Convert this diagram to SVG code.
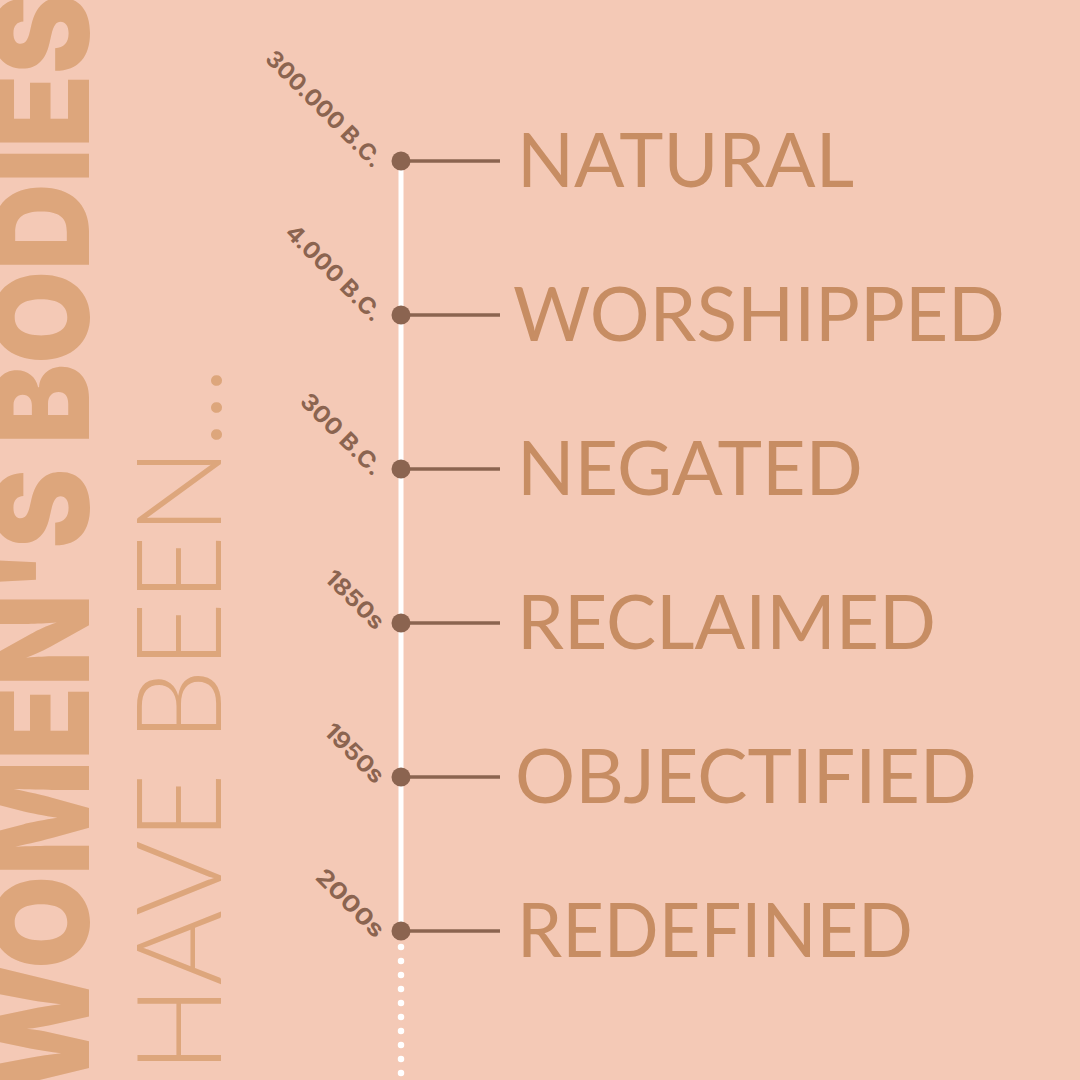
<svg xmlns="http://www.w3.org/2000/svg" width="1080" height="1080" viewBox="0 0 1080 1080">
<style>
.bg{fill:#F4C9B6}
.title{font-family:Inter,"Liberation Sans",sans-serif;font-weight:900;fill:#DDA67C}
.sub{font-family:Lato,"Liberation Sans",sans-serif;font-weight:300;fill:#DDA67C}
.label{font-family:Lato,"Open Sans","Liberation Sans",sans-serif;font-weight:400;font-size:75px;fill:#C78D63}
.date{font-family:Inter,"Liberation Sans",sans-serif;font-weight:700;font-size:23px;fill:#8B6450;text-anchor:end}
.tick{stroke:#8B6450;stroke-width:3.5}
.dot{fill:#8B6450}
</style>
<rect class="bg" x="0" y="0" width="1080" height="1080"/>
<g id="title">
<text class="title" font-size="132" transform="translate(89,1094) rotate(-90)" x="0" y="0" textLength="1100" lengthAdjust="spacingAndGlyphs">WOMEN'S BODIES</text>
<text class="sub" font-size="118" transform="translate(221,1073) rotate(-90)" x="0" y="0" textLength="706" lengthAdjust="spacingAndGlyphs">HAVE BEEN...</text>
</g>
<g id="connectors">
<line x1="401" y1="161" x2="401" y2="931" stroke="#FFFFFF" stroke-width="5"/>
<line x1="401" y1="947" x2="401" y2="1075" stroke="#FFFFFF" stroke-width="6.5" stroke-linecap="round" stroke-dasharray="0 14"/>
<line class="tick" x1="401" y1="161" x2="500" y2="161"/>
<line class="tick" x1="401" y1="315" x2="500" y2="315"/>
<line class="tick" x1="401" y1="469" x2="500" y2="469"/>
<line class="tick" x1="401" y1="623" x2="500" y2="623"/>
<line class="tick" x1="401" y1="777" x2="500" y2="777"/>
<line class="tick" x1="401" y1="931" x2="500" y2="931"/>
</g>
<g id="node-natural">
<circle class="dot" cx="401" cy="161" r="9.5"/>
<text class="date" transform="translate(373,169) rotate(45)" textLength="154" lengthAdjust="spacingAndGlyphs">300.000 B.C.</text>
<text class="label" x="517" y="187" textLength="337" lengthAdjust="spacingAndGlyphs">NATURAL</text>
</g>
<g id="node-worshipped">
<circle class="dot" cx="401" cy="315" r="9.5"/>
<text class="date" transform="translate(373,323) rotate(45)" textLength="126" lengthAdjust="spacingAndGlyphs">4.000 B.C.</text>
<text class="label" x="513" y="341" textLength="492" lengthAdjust="spacingAndGlyphs">WORSHIPPED</text>
</g>
<g id="node-negated">
<circle class="dot" cx="401" cy="469" r="9.5"/>
<text class="date" transform="translate(373,477) rotate(45)" textLength="105" lengthAdjust="spacingAndGlyphs">300 B.C.</text>
<text class="label" x="517" y="495" textLength="346" lengthAdjust="spacingAndGlyphs">NEGATED</text>
</g>
<g id="node-reclaimed">
<circle class="dot" cx="401" cy="623" r="9.5"/>
<text class="date" transform="translate(375,631) rotate(45)" textLength="73" lengthAdjust="spacingAndGlyphs">1850s</text>
<text class="label" x="517" y="649" textLength="419" lengthAdjust="spacingAndGlyphs">RECLAIMED</text>
</g>
<g id="node-objectified">
<circle class="dot" cx="401" cy="777" r="9.5"/>
<text class="date" transform="translate(375,785) rotate(45)" textLength="74" lengthAdjust="spacingAndGlyphs">1950s</text>
<text class="label" x="515" y="803" textLength="462" lengthAdjust="spacingAndGlyphs">OBJECTIFIED</text>
</g>
<g id="node-redefined">
<circle class="dot" cx="401" cy="931" r="9.5"/>
<text class="date" transform="translate(375,939) rotate(45)" textLength="86" lengthAdjust="spacingAndGlyphs">2000s</text>
<text class="label" x="517" y="957" textLength="396" lengthAdjust="spacingAndGlyphs">REDEFINED</text>
</g>
</svg>
